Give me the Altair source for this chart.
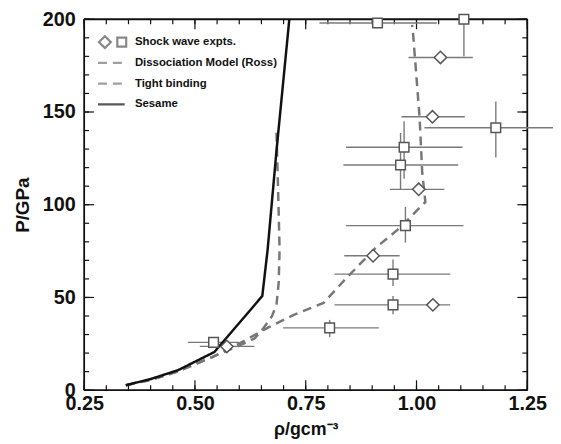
import altair as alt
import pandas as pd

FONT = "Liberation Sans"
INK = "#111111"

# ---- Shock wave experiments: squares ----
sq_rho    = [0.912, 1.107, 1.179, 0.972, 0.964, 0.975, 0.947, 0.947, 0.804, 0.542]
sq_P      = [198.0, 200.0, 141.5, 131.0, 121.4, 88.7, 62.6, 46.0, 33.6, 25.8]
sq_rho_lo = [0.781, None, 1.018, 0.841, 0.835, 0.841, 0.815, 0.815, 0.699, 0.484]
sq_rho_hi = [1.046, None, 1.310, 1.104, 1.094, 1.106, 1.076, 1.076, 0.915, 0.600]
sq_P_lo   = [None, 180.0, 125.5, 114.0, 108.3, 79.6, 56.2, 41.0, 28.6, None]
sq_P_hi   = [None, 200.0, 155.7, 145.0, 138.7, 98.8, 70.4, 50.8, 37.9, None]

# ---- Shock wave experiments: diamonds ----
dm_rho    = [1.054, 1.036, 1.005, 0.902, 1.037, 0.572]
dm_P      = [179.4, 147.4, 108.3, 72.5, 46.0, 23.6]
dm_rho_lo = [0.982, 0.966, 0.940, 0.837, None, 0.511]
dm_rho_hi = [1.127, 1.109, 1.063, 0.962, None, 0.634]

# ---- Model curves ----
ross_rho = [0.344, 0.40, 0.46, 0.54, 0.603, 0.667, 0.722, 0.79, 0.84, 0.908, 0.957, 0.987, 1.020, 1.013, 1.007, 0.992, 0.990]
ross_P   = [2.7, 5.5, 10.0, 18.0, 25.5, 34.0, 40.5, 47.0, 60.0, 76.8, 86.4, 93.5, 101.5, 117.0, 147.0, 193.0, 197.0]
tb_rho   = [0.344, 0.40, 0.46, 0.54, 0.60, 0.635, 0.655, 0.674, 0.684, 0.689, 0.691, 0.688, 0.684]
tb_P     = [2.7, 5.5, 10.0, 18.0, 24.0, 28.0, 33.5, 40.0, 46.0, 58.0, 75.7, 105.0, 139.0]
ses_rho  = [0.344, 0.40, 0.462, 0.544, 0.652, 0.664, 0.684, 0.713]
ses_P    = [2.7, 6.0, 10.8, 20.6, 50.8, 75.7, 129.0, 200.0]

series_names = ["Shock wave expts.", "Dissociation Model (Ross)", "Tight binding", "Sesame"]

x_major = [0.25, 0.5, 0.75, 1.0, 1.25]
x_minor = [round(0.25 + 0.05 * i, 2) for i in range(21)]
y_major = [0, 50, 100, 150, 200]
y_minor = [10 * i for i in range(21)]

W, H = 448, 375
MAJ, MIN = 10, 5

# ---- tables ----
hbars = pd.DataFrame(
    [(lo, hi, p) for lo, hi, p in zip(sq_rho_lo, sq_rho_hi, sq_P) if lo is not None]
    + [(lo, hi, p) for lo, hi, p in zip(dm_rho_lo, dm_rho_hi, dm_P) if lo is not None],
    columns=["lo", "hi", "P"])
vbars = pd.DataFrame(
    [(r, lo, hi) for r, lo, hi in zip(sq_rho, sq_P_lo, sq_P_hi) if lo is not None],
    columns=["rho", "lo", "hi"])
squares = pd.DataFrame({"rho": sq_rho, "P": sq_P})
diamonds = pd.DataFrame({"rho": dm_rho, "P": dm_P})
rows = []
for name, rr, pp in [(series_names[1], ross_rho, ross_P),
                     (series_names[2], tb_rho, tb_P),
                     (series_names[3], ses_rho, ses_P)]:
    for i, (r, p) in enumerate(zip(rr, pp)):
        rows.append({"series": name, "rho": r, "P": p, "order": i})
lines = pd.DataFrame(rows)

x0, x1, y0, y1 = x_major[0], x_major[-1], y_major[0], y_major[-1]
frame = pd.DataFrame({"xa": [x0, x0, x0, x1], "xb": [x1, x1, x0, x1],
                      "ya": [y0, y1, y0, y0], "yb": [y0, y1, y1, y1]})

xscale = alt.Scale(domain=[x0, x1], nice=False, zero=False)
yscale = alt.Scale(domain=[y0, y1], nice=False, zero=False)

ax_x_lab = alt.Axis(orient="bottom", values=x_major, format=".2f", ticks=False, domain=False,
                    grid=False, labelFlush=False, labelOverlap=False,
                    labelFont=FONT, labelFontSize=20, labelFontWeight="bold",
                    labelColor=INK, labelPadding=4, title="ρ/gcm⁻³", titleFont=FONT,
                    titleFontSize=18, titleFontWeight="bold", titleColor=INK, titlePadding=7)
ax_y_lab = alt.Axis(orient="left", values=y_major, format="d", ticks=False, domain=False,
                    grid=False, labelFlush=False, labelOverlap=False,
                    labelFont=FONT, labelFontSize=20, labelFontWeight="bold",
                    labelColor=INK, labelPadding=9, title="P/GPa", titleFont=FONT,
                    titleFontSize=19, titleFontWeight="bold", titleColor=INK, titlePadding=10)

# legend symbols: combined diamond + square for the experiments, plain lines for the models
sym_path = ("M-1.73,0L-0.90,-0.83L-0.07,0L-0.90,0.83Z"
            "M0.83,-0.62L2.07,-0.62L2.07,0.62L0.83,0.62Z")
line_path = "M-1.86,-0.83M-1.86,0L1.86,0M1.86,0.83"
legend = alt.Legend(
    orient="none", legendX=19, legendY=14.6, title=None, padding=0,
    labelFont=FONT, labelFontSize=11.5, labelFontWeight="bold", labelColor=INK,
    symbolSize=210, symbolStrokeWidth=2.2, rowPadding=0, labelOffset=15.3,
    symbolFillColor="transparent")

GRAY_BAR = "#7a7a7a"
GRAY_LINE = "#777777"
GRAY_MK = "#555555"

color_scale = alt.Scale(domain=series_names, range=[GRAY_MK, GRAY_LINE, GRAY_LINE, INK])
dash_scale = alt.Scale(domain=series_names, range=[[1, 0], [9, 6], [9, 6], [1, 0]])
shape_scale = alt.Scale(domain=series_names, range=[sym_path, line_path, line_path, line_path])

X = lambda f: alt.X(f, type="quantitative", scale=xscale, axis=ax_x_lab)
Y = lambda f: alt.Y(f, type="quantitative", scale=yscale, axis=ax_y_lab)

frame_layer = alt.Chart(frame).mark_rule(color=INK, strokeWidth=1.8).encode(
    x=X("xa"), x2="xb", y=Y("ya"), y2="yb",
)


def xticks(values, length, top):
    ya, yb = (0, length) if top else (H, H - length)
    return alt.Chart(pd.DataFrame({"v": values})).mark_rule(color=INK, strokeWidth=1.2).encode(
        x=X("v"), y=alt.value(ya), y2=alt.value(yb))


def yticks(values, length, right):
    xa, xb = (W, W - length) if right else (0, length)
    return alt.Chart(pd.DataFrame({"v": values})).mark_rule(color=INK, strokeWidth=1.2).encode(
        y=Y("v"), x=alt.value(xa), x2=alt.value(xb))


tick_layers = [xticks(x_major, MAJ, False), xticks(x_minor, MIN, False),
               xticks(x_major, MAJ, True), xticks(x_minor, MIN, True),
               yticks(y_major, MAJ, False), yticks(y_minor, MIN, False),
               yticks(y_major, MAJ, True), yticks(y_minor, MIN, True)]

hbar_layer = alt.Chart(hbars).mark_rule(color=GRAY_BAR, strokeWidth=1.4).encode(
    x=X("lo"), x2="hi", y=Y("P"),
)
vbar_layer = alt.Chart(vbars).mark_rule(color=GRAY_BAR, strokeWidth=1.4).encode(
    x=X("rho"), y=Y("lo"), y2="hi",
)
line_layer = alt.Chart(lines).mark_line(strokeWidth=2.5).encode(
    x=X("rho"), y=Y("P"),
    color=alt.Color("series:N", scale=color_scale, legend=legend),
    strokeDash=alt.StrokeDash("series:N", scale=dash_scale, legend=legend),
    order="order:Q",
)
# legend-only layer (no marks drawn) carrying the shape scale
legend_layer = alt.Chart(lines).transform_filter("false").mark_point(filled=False).encode(
    color=alt.Color("series:N", scale=color_scale, legend=legend),
    strokeDash=alt.StrokeDash("series:N", scale=dash_scale, legend=legend),
    shape=alt.Shape("series:N", scale=shape_scale, legend=legend),
)
sq_layer = alt.Chart(squares).mark_point(shape="square", size=95, fill="white", stroke=GRAY_MK,
                                         strokeWidth=1.5, opacity=1).encode(x=X("rho"), y=Y("P"))
dm_layer = alt.Chart(diamonds).mark_point(shape="diamond", size=156, fill="white", stroke=GRAY_MK,
                                          strokeWidth=1.5, opacity=1).encode(x=X("rho"), y=Y("P"))

chart = alt.layer(frame_layer, *tick_layers, hbar_layer, vbar_layer, line_layer, legend_layer,
                  sq_layer, dm_layer).properties(
    width=W, height=H,
    padding={"left": 77, "top": 9, "right": 26, "bottom": 50},
    autosize=alt.AutoSizeParams(type="none"),
    background="white",
).configure_view(stroke=None)

chart.save("out.html", embed_options={"renderer": "svg", "actions": False})
